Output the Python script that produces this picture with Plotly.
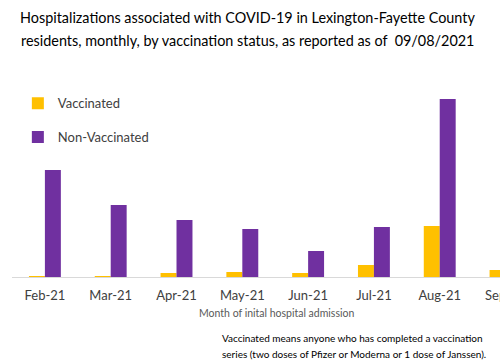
import plotly.graph_objects as go

months = ["Feb-21", "Mar-21", "Apr-21", "May-21", "Jun-21", "Jul-21", "Aug-21", "Sep-21"]
vaccinated = [1, 1, 4, 5, 4, 12, 51, 7]
non_vaccinated = [107, 72, 57, 48, 26, 50, 178, 20]
series_names = ["Vaccinated", "Non-Vaccinated"]
colors = ["#FFC000", "#7030A0"]
title_lines = ["Hospitalizations associated with COVID-19 in Lexington-Fayette County",
               "residents, monthly, by vaccination status, as reported as of  09/08/2021"]
footnote_lines = ["Vaccinated means anyone who has completed a vaccination",
                  "series (two doses of Pfizer or Moderna or 1 dose of Janssen)."]

FONT = "Lato"

fig = go.Figure()
x_idx = list(range(len(months)))
fig.add_trace(go.Bar(x=x_idx, y=vaccinated, name=series_names[0],
                     marker=dict(color=colors[0], line=dict(width=0)),
                     legendgroup="a"))
fig.add_trace(go.Bar(x=x_idx, y=non_vaccinated, name=series_names[1],
                     marker=dict(color=colors[1], line=dict(width=0)),
                     legendgroup="b"))

fig.update_layout(
    width=500, height=364,
    margin=dict(l=12, r=0, t=60, b=87),
    paper_bgcolor="white", plot_bgcolor="white",
    barmode="group", bargap=0.515, bargroupgap=0,
    font=dict(family=FONT, color="#404040"),
    showlegend=True,
    legend=dict(x=0.012, xanchor="left", y=0.87, yanchor="top",
                font=dict(family=FONT, size=13, color="#404040"),
                tracegroupgap=14, bgcolor="rgba(0,0,0,0)", traceorder="grouped"),
    xaxis=dict(
        range=[-0.5, 6.916],
        tickmode="array", tickvals=x_idx, ticktext=months,
        ticks="outside", ticklen=6, tickcolor="rgba(0,0,0,0)",
        tickfont=dict(family=FONT, size=13, color="#404040"),
        showline=True, linecolor="#D9D9D9", linewidth=1,
        showgrid=False, zeroline=False, fixedrange=True,
    ),
    yaxis=dict(range=[0, 217], visible=False, showgrid=False, zeroline=False),
)

# title (two lines)
for txt, yy in zip(title_lines, [1.198, 1.092]):
    fig.add_annotation(text=txt, xref="paper", yref="paper", x=0.4836, y=yy,
                       xanchor="center", yanchor="middle", showarrow=False,
                       font=dict(family=FONT, size=14.4, color="#000000"))

# Sep-21 tick label (category partly outside visible area)
fig.add_annotation(text=months[7], xref="paper", yref="paper", x=1.012, y=-0.083,
                   xanchor="center", yanchor="middle", showarrow=False,
                   font=dict(family=FONT, size=13, color="#404040"))
# axis title
fig.add_annotation(text="Month of inital hospital admission", xref="paper", yref="paper",
                   x=0.543, y=-0.166, xanchor="center", yanchor="middle", showarrow=False,
                   font=dict(family=FONT, size=10.5, color="#595959"))
# footnote
for txt, yy in zip(footnote_lines, [-0.281, -0.355]):
    fig.add_annotation(text=txt, xref="paper", yref="paper", x=0.4262, y=yy,
                       xanchor="left", yanchor="middle", showarrow=False,
                       font=dict(family=FONT, size=10, color="#000000"))

fig.write_html("out.html",
               config={"displayModeBar": False},
               post_script="document.body.style.margin='0';"
                           "document.body.style.overflow='hidden';")
